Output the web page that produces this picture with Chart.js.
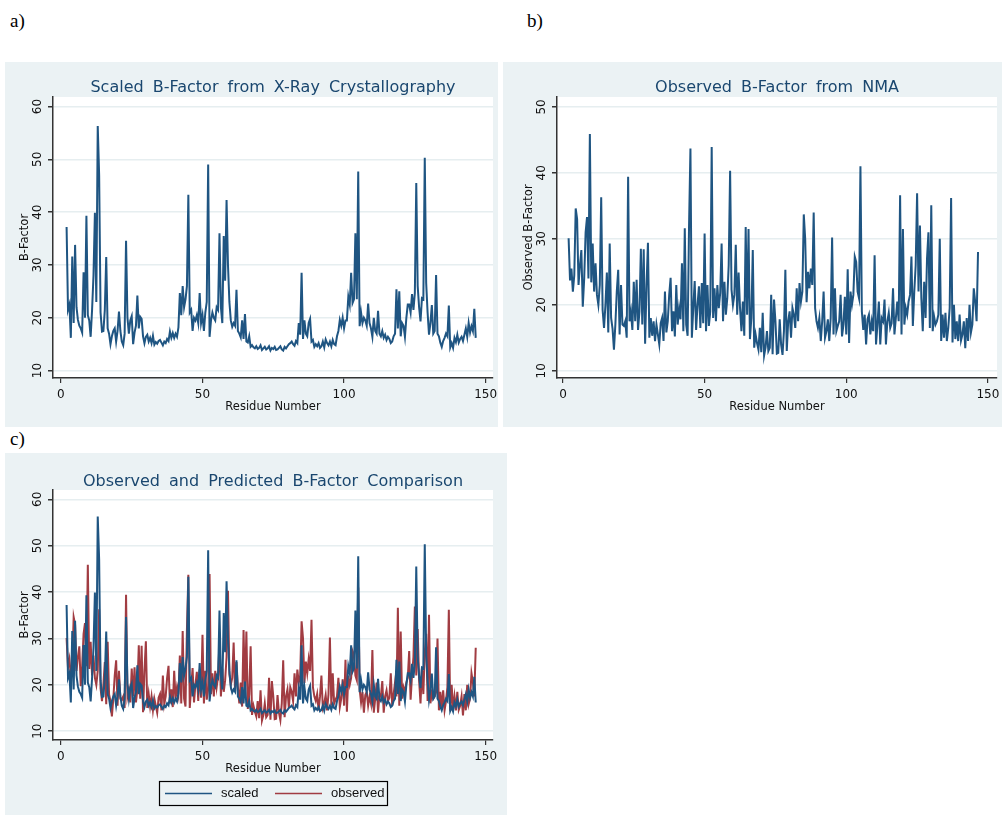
<!DOCTYPE html>
<html>
<head>
<meta charset="utf-8">
<script src="https://cdn.jsdelivr.net/npm/chart.js@4.4.1/dist/chart.umd.min.js"></script>
<style>
body { margin: 0; background: #fff; width: 1003px; height: 815px; position: relative; overflow: hidden; }
.lbl { position: absolute; font-family: "Liberation Serif", "DejaVu Serif", serif; font-size: 19px; color: #000; }
canvas { position: absolute; background: #ebf2f4; }
</style>
</head>
<body>
<div class="lbl" style="left:10px;top:10px">a)</div>
<div class="lbl" style="left:527px;top:10px">b)</div>
<div class="lbl" style="left:10px;top:428px">c)</div>
<canvas id="pa" width="493" height="365" style="left:5px;top:62px"></canvas>
<canvas id="pb" width="499" height="365" style="left:503px;top:62px"></canvas>
<canvas id="pc" width="502" height="362" style="left:5px;top:453px"></canvas>
<script>
// two samples per residue, residues 2..146
const firstResidue = 2;
const step = 0.5;

const scaled = [
  37.2,21.5, 22.5,16.2, 31.6,19, 33.8,22, 19.6,18.5, 18,17.2, 28.6,20, 39.3,20.5, 19.5,16.4, 21.5,28,
  39.9,23, 56.3,47, 21,17.4, 17.5,21.5, 31.5,18, 17,15, 16.5,17.5, 18,15.5, 17.5,21.2, 17.5,15.5,
  14.8,17, 34.6,20, 17,19.5, 20.3,15, 17.2,18.5, 24.2,18, 20.2,19.8, 16.5,15.2, 16.4,16.8, 15.5,16.2,
  15.2,16.6, 14.9,15.4, 15.1,15.6, 15.8,15.3, 14.8,15.5, 15.2,16, 15.6,17.4, 16.2,17.1, 16.2,17, 16.4,18.2,
  24.7,20.5, 26,22, 23.5,26, 43.3,21, 21.5,17.5, 20,19.5, 20.5,19, 24.7,19, 20.5,17.5, 21,23,
  49,16.4, 19.5,21, 20,19.5, 22,21.5, 36,22, 19,35.5, 27,42.3, 30,23, 19.5,18.3, 19,18.5,
  25.3,17.5, 17,16.3, 19.5,16, 20.7,15.5, 15.3,16.5, 14.5,14.8, 14.4,14.2, 14.6,14.1, 14.3,14.8, 13.9,14.2,
  14.5,14.0, 14.2,14.6, 13.8,14.3, 14.1,14.5, 13.9,14.0, 14.3,14.6, 14.0,13.8, 14.5,14.2, 14.6,15.0, 15.2,15.5,
  15.0,14.7, 15.6,15.2, 19,16.8, 28.5,16, 19.5,17, 16.5,19, 19.8,15.5, 15.8,14.5, 15,14.6, 15.2,14.3,
  14.6,15.5, 14.4,15.9, 15.2,14.8, 15.5,14.6, 15.8,15, 14.8,16.5, 17.5,19.6, 18.5,20, 18,19.5, 19.5,24,
  22.5,28.5, 22.8,23.5, 36,23.5, 47.7,18.4, 21,19, 20,19.5, 18.5,22.7, 19,18, 16.4,20, 17.5,17,
  21.3,17, 16.5,17.5, 16.2,16.8, 15.8,16.4, 16,15.2, 15.5,16.5, 17,25.4, 18,25, 16.5,19, 18.5,16.4,
  20,22.5, 22.5,21, 24.5,21.5, 24.7,45.5, 26,22, 19.3,23.7, 23.5,50.3, 26.6,21, 16.8,19, 22.4,17,
  17.5,28.1, 17,16.5, 15.3,14.5, 15.6,16.2, 17,16.5, 22.3,14.4, 15.2,14.3, 16.2,15.4, 16.8,15.3, 16,16.4,
  15.6,16.8, 18,16.4, 19,17.2, 18.4,17.5, 21.7,16.2
];

const observed = [
  30.1,23.7, 25.5,22, 24.5,34.6, 33,23, 26,28.3, 19.7,24, 31,33.3, 24,45.9, 23.4,29.3, 22,26.3,
  21.5,20, 23,36.3, 19.2,16.5, 20,24.9, 15.8,29.3, 18,16.4, 13.2,17, 22,25.3, 15.5,23, 17,16.8,
  17.5,15, 39.4,17.5, 19,16.2, 23.5,17.5, 23.8,16.2, 19,28.5, 17,28.4, 14.1,23, 29.4,15, 18,15.3,
  17.5,14.5, 17,15.5, 14,17.2, 18,14.5, 22,15.8, 17.5,21.5, 24.1,16, 19,15.2, 23,17, 19.5,17.8,
  26.3,16, 31.6,17, 15.3,31.8, 43.7,15, 19.5,23.6, 16.2,20, 22.8,16.5, 23.3,17.2, 30.8,16, 23,16.8,
  19,43.9, 18,22.5, 17.5,23, 19.5,21.8, 29.3,17.5, 23.5,18.5, 21,26, 40.3,22.3, 20,21.5, 29.1,18.5,
  24.9,19.5, 16,20.5, 15.3,31.8, 18.5,31.5, 14.8,18, 28.3,13.5, 15.5,14.2, 13.2,16.5, 12.8,18.8, 12.3,13.5,
  16,13, 13.5,21.5, 12.5,20.8, 17.5,12.6, 12.7,17.8, 14,12.4, 16,25.3, 13,17.5, 19,15, 19.5,18.5,
  16.5,22.5, 17.5,23.3, 20.5,22, 33.7,30, 20.4,25, 22.5,25.5, 23,34, 19.5,17.5, 16.5,18, 14.5,17.5,
  22,15, 16,17.8, 14.5,18, 30.2,15.5, 22.5,16, 16.8,17.5, 21.5,15.2, 17,21.2, 15.5,25.4, 14.2,22,
  20,21.5, 27.3,26.5, 22,21, 41,19, 16.2,18.5, 14,17.8, 18.5,15.5, 17.5,16, 27.5,14, 17,20.5,
  14,18, 17.5,20.8, 14,17.5, 18.8,16.5, 17.2,22.5, 15.5,18, 20.5,17.5, 36.6,15.5, 31.5,17, 19.5,18.5,
  20.5,21.5, 27.3,16.8, 22,26, 36.9,22, 32,21, 16,23.5, 18,27, 31,16.5, 35.1,16, 18.2,17,
  17.5,18.5, 30,14.5, 18.5,15, 18.8,14.5, 16.5,19.5, 36.2,14.3, 20,14.8, 17.5,14.5, 18.5,14.6, 15.5,17.5,
  13.4,18, 14.5,20, 15.8,17, 22.5,20.5, 17.5,28
];

const xTicks = [0, 50, 100, 150];
const yTicksA = [10, 20, 30, 40, 50, 60];
const yTicksB = [10, 20, 30, 40, 50];
const seriesNames = ['scaled', 'observed'];

const navy = '#1f5582';
const maroon = '#a13c42';
const titleBlue = '#1a476f';

function pts(vals) {
  return vals.map((v, i) => ({ x: firstResidue + i * step, y: v }));
}

const deco = {
  id: 'deco',
  beforeDraw(chart) {
    const a = chart.chartArea, ctx = chart.ctx;
    ctx.save();
    ctx.fillStyle = '#fff';
    ctx.fillRect(a.left, a.top, a.right - a.left, a.bottom - a.top);
    ctx.restore();
  },
  afterDraw(chart, args, o) {
    const ctx = chart.ctx, a = chart.chartArea;
    const xs = chart.scales.x, ys = chart.scales.y;
    const cx = (a.left + a.right) / 2, cy = (a.top + a.bottom) / 2;
    ctx.save();
    // title
    ctx.fillStyle = titleBlue;
    ctx.font = '16px "DejaVu Sans"';
    ctx.textAlign = 'center';
    ctx.textBaseline = 'middle';
    ctx.wordSpacing = '4px';
    ctx.fillText(o.title, cx, o.titleY);
    ctx.wordSpacing = '0px';
    // x tick labels
    ctx.fillStyle = '#111';
    ctx.font = '12px "DejaVu Sans"';
    o.xTicks.forEach(v => ctx.fillText(String(v), xs.getPixelForValue(v), a.bottom + 17));
    ctx.font = '11.5px "DejaVu Sans"';
    ctx.fillText('Residue Number', cx, a.bottom + 29);
    // y tick labels and title, rotated
    o.yTicks.forEach(v => {
      ctx.save();
      ctx.translate(a.left - 15, ys.getPixelForValue(v));
      ctx.rotate(-Math.PI / 2);
      ctx.font = '12px "DejaVu Sans"';
      ctx.fillText(String(v), 0, 0);
      ctx.restore();
    });
    ctx.save();
    ctx.translate(a.left - 28, cy);
    ctx.rotate(-Math.PI / 2);
    ctx.font = '11.5px "DejaVu Sans"';
    ctx.fillText(o.yTitle, 0, 0);
    ctx.restore();
    // legend
    if (o.legend) {
      const w = 228, h = 24, lx = cx - w / 2, ly = a.bottom + 41;
      ctx.strokeStyle = '#000';
      ctx.lineWidth = 1.2;
      ctx.strokeRect(lx + 0.5, ly + 0.5, w, h);
      ctx.font = '13px "Liberation Sans"';
      ctx.textAlign = 'left';
      chart.data.datasets.forEach((d, i) => {
        const x0 = lx + 6 + i * 110, y0 = ly + h / 2 + 0.5;
        ctx.strokeStyle = d.borderColor;
        ctx.lineWidth = 1.5;
        ctx.beginPath();
        ctx.moveTo(x0, y0);
        ctx.lineTo(x0 + 47, y0);
        ctx.stroke();
        ctx.fillStyle = '#111';
        ctx.fillText(d.label, x0 + 56, y0);
      });
    }
    ctx.restore();
  }
};

function makeChart(id, datasets, pad, xr, yr, dec) {
  return new Chart(document.getElementById(id), {
    type: 'line',
    data: { datasets: datasets },
    options: {
      responsive: false,
      animation: false,
      parsing: false,
      layout: { padding: pad },
      elements: { point: { radius: 0 }, line: { tension: 0 } },
      plugins: { legend: { display: false }, tooltip: { enabled: false }, deco: dec },
      scales: {
        x: {
          type: 'linear', min: xr[0], max: xr[1],
          afterBuildTicks: s => { s.ticks = dec.xTicks.map(v => ({ value: v })); },
          afterFit: s => { s.height = 0; },
          ticks: { display: false },
          grid: { drawOnChartArea: false, drawTicks: true, tickLength: 5, tickColor: '#333', lineWidth: 1.2 },
          border: { display: true, color: '#333', width: 1.5 }
        },
        y: {
          min: yr[0], max: yr[1],
          afterBuildTicks: s => { s.ticks = dec.yTicks.map(v => ({ value: v })); },
          afterFit: s => { s.width = 0; },
          ticks: { display: false },
          grid: { color: '#e6eef0', lineWidth: 1.5, drawTicks: true, tickLength: 5, tickColor: '#333' },
          border: { display: true, color: '#333', width: 1.5 }
        }
      }
    },
    plugins: [deco]
  });
}

makeChart('pa',
  [{ label: seriesNames[0], data: pts(scaled), borderColor: navy, borderWidth: 2 }],
  { left: 48, top: 35, right: 5, bottom: 49 }, [-2.8, 152.6], [8.6, 61.8],
  { title: 'Scaled B-Factor from X-Ray Crystallography', titleY: 26, yTitle: 'B-Factor', xTicks: xTicks, yTicks: yTicksA });

makeChart('pb',
  [{ label: seriesNames[1], data: pts(observed), borderColor: navy, borderWidth: 2 }],
  { left: 54, top: 35, right: 5, bottom: 49 }, [-2.1, 153.2], [8.9, 51.5],
  { title: 'Observed B-Factor from NMA', titleY: 26, yTitle: 'Observed B-Factor', xTicks: xTicks, yTicks: yTicksB });

makeChart('pc',
  [{ label: seriesNames[0], data: pts(scaled), borderColor: navy, borderWidth: 2 },
   { label: seriesNames[1], data: pts(observed), borderColor: maroon, borderWidth: 2 }],
  { left: 48, top: 37, right: 14, bottom: 75 }, [-2.8, 152.6], [8.1, 62],
  { title: 'Observed and Predicted B-Factor Comparison', titleY: 29, yTitle: 'B-Factor', xTicks: xTicks, yTicks: yTicksA, legend: true });
</script>
</body>
</html>
